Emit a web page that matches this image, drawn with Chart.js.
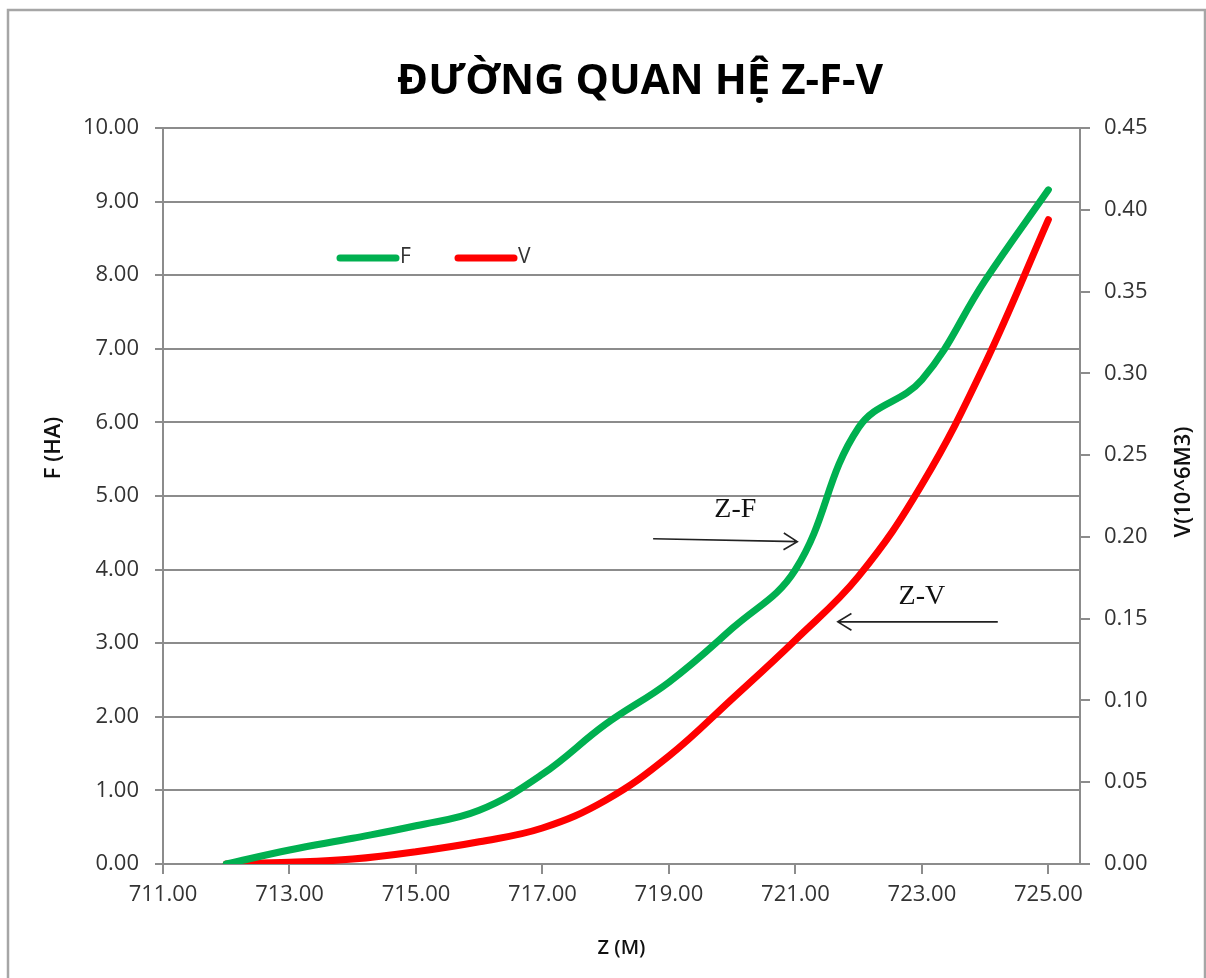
<!DOCTYPE html>
<html>
<head>
<meta charset="utf-8">
<script src="https://cdn.jsdelivr.net/npm/chart.js@4.4.0/dist/chart.umd.min.js"></script>
<style>
  html, body { margin: 0; padding: 0; background: #fff; }
  #wrap { width: 1206px; height: 978px; }
</style>
</head>
<body>
<div id="wrap"><canvas id="zfv" width="1206" height="978"></canvas></div>
<script>
// Z-F-V relation
const zValues = [712, 713, 714, 715, 716, 717, 718, 719, 720, 721, 722, 723, 724, 725];
const fValues = [0, 0.19, 0.35, 0.52, 0.73, 1.22, 1.9, 2.47, 3.2, 4.0, 5.93, 6.58, 7.93, 9.16];
const vValues = [0, 0.001, 0.003, 0.0075, 0.0136, 0.022, 0.039, 0.066, 0.101, 0.137, 0.176, 0.232, 0.306, 0.394];

// axis ticks
const zTicks = [711, 713, 715, 717, 719, 721, 723, 725];
const fTicks = [0, 1, 2, 3, 4, 5, 6, 7, 8, 9, 10];
const vTicks = [0, 0.05, 0.1, 0.15, 0.2, 0.25, 0.3, 0.35, 0.4, 0.45];

const GRID = "#8c8c8c";
const GREEN = "#00b050";
const RED = "#ff0000";
const TEXT = "#333333";

Chart.defaults.font.family = "'Open Sans', sans-serif";
Chart.defaults.color = TEXT;

function setTicks(values) {
  return (scale) => {
    scale.ticks = values.map((v) => ({ value: v }));
  };
}

function drawArrow(ctx, x1, y1, x2, y2) {
  const ang = Math.atan2(y2 - y1, x2 - x1);
  const len = 16;
  ctx.beginPath();
  ctx.moveTo(x1, y1);
  ctx.lineTo(x2, y2);
  ctx.moveTo(x2 - len * Math.cos(ang - 0.55), y2 - len * Math.sin(ang - 0.55));
  ctx.lineTo(x2, y2);
  ctx.lineTo(x2 - len * Math.cos(ang + 0.55), y2 - len * Math.sin(ang + 0.55));
  ctx.stroke();
}

// background, frame, title, legend, axis titles and the Z-F / Z-V notes
const decor = {
  id: "decor",
  beforeDraw(chart) {
    const ctx = chart.ctx;
    ctx.save();
    ctx.fillStyle = "#fff";
    ctx.fillRect(0, 0, chart.width, chart.height);
    ctx.strokeStyle = "#a6a6a6";
    ctx.lineWidth = 2.5;
    ctx.strokeRect(8, 10, 1197, 1000);
    ctx.restore();
  },
  afterDraw(chart) {
    const ctx = chart.ctx;
    const xs = chart.scales.x;
    const ys = chart.scales.y;
    ctx.save();

    // title
    ctx.fillStyle = "#000";
    ctx.font = "bold 42px 'Open Sans', sans-serif";
    ctx.textAlign = "center";
    ctx.textBaseline = "alphabetic";
    ctx.fillText("ĐƯỜNG QUAN HỆ Z-F-V", 640, 94);

    // legend
    const items = chart.data.datasets;
    const legendX = [340, 458];
    ctx.lineCap = "round";
    ctx.lineWidth = 7;
    ctx.font = "21px 'Open Sans', sans-serif";
    ctx.textAlign = "left";
    ctx.textBaseline = "middle";
    items.forEach((ds, i) => {
      const lx = legendX[i];
      ctx.strokeStyle = ds.borderColor;
      ctx.beginPath();
      ctx.moveTo(lx, 258);
      ctx.lineTo(lx + 56, 258);
      ctx.stroke();
      ctx.fillStyle = TEXT;
      ctx.fillText(ds.label, lx + 60, 257);
    });

    // axis titles (Excel style, both read bottom to top)
    ctx.fillStyle = "#111";
    ctx.font = "600 22px 'Open Sans', sans-serif";
    ctx.textAlign = "center";
    ctx.textBaseline = "middle";
    ctx.save();
    ctx.translate(54, 448);
    ctx.rotate(-Math.PI / 2);
    ctx.fillText("F (HA)", 0, 0);
    ctx.restore();
    ctx.save();
    ctx.translate(1184, 482);
    ctx.rotate(-Math.PI / 2);
    ctx.fillText("V(10^6M3)", 0, 0);
    ctx.restore();

    // notes with arrows
    ctx.fillStyle = "#111";
    ctx.strokeStyle = "#222";
    ctx.lineWidth = 1.6;
    ctx.lineCap = "butt";
    ctx.font = "28px 'Liberation Serif', serif";
    ctx.fillText("Z-F", xs.getPixelForValue(720.05), ys.getPixelForValue(4.82));
    drawArrow(ctx,
      xs.getPixelForValue(718.75), ys.getPixelForValue(4.42),
      xs.getPixelForValue(721.03), ys.getPixelForValue(4.38));
    ctx.fillText("Z-V", xs.getPixelForValue(723.0), ys.getPixelForValue(3.63));
    drawArrow(ctx,
      xs.getPixelForValue(724.2), ys.getPixelForValue(3.29),
      xs.getPixelForValue(721.67), ys.getPixelForValue(3.29));

    ctx.restore();
  },
};

const ctx = document.getElementById("zfv").getContext("2d");
new Chart(ctx, {
  type: "line",
  data: {
    datasets: [
      {
        label: "F",
        data: zValues.map((z, i) => ({ x: z, y: fValues[i] })),
        borderColor: GREEN,
        borderWidth: 7,
        yAxisID: "y",
      },
      {
        label: "V",
        data: zValues.map((z, i) => ({ x: z, y: vValues[i] })),
        borderColor: RED,
        borderWidth: 7,
        yAxisID: "y1",
      },
    ],
  },
  options: {
    responsive: false,
    animation: false,
    devicePixelRatio: 1,
    layout: { padding: { top: 128, left: 0, right: 0, bottom: 0 } },
    elements: {
      point: { radius: 0 },
      line: { tension: 0.4, borderCapStyle: "round", borderJoinStyle: "round" },
    },
    plugins: {
      legend: { display: false },
      title: { display: false },
      tooltip: { enabled: false },
    },
    scales: {
      x: {
        type: "linear",
        min: 711,
        max: 725.5,
        afterBuildTicks: setTicks(zTicks),
        afterFit: (scale) => { scale.height = 114; },
        grid: { drawOnChartArea: false, color: GRID, lineWidth: 2, tickLength: 10 },
        border: { color: GRID, width: 2 },
        ticks: {
          padding: 8,
          maxRotation: 0,
          autoSkip: false,
          font: { size: 22 },
          color: TEXT,
          callback: (v) => Number(v).toFixed(2),
        },
        title: {
          display: true,
          text: "Z (M)",
          font: { size: 20, weight: "600" },
          color: "#111",
          padding: { top: 0, bottom: 18 },
        },
      },
      y: {
        position: "left",
        min: 0,
        max: 10,
        afterBuildTicks: setTicks(fTicks),
        afterFit: (scale) => { scale.width = 163; },
        grid: { color: GRID, lineWidth: 2, tickLength: 8 },
        border: { color: GRID, width: 2 },
        ticks: {
          padding: 16,
          font: { size: 22 },
          color: TEXT,
          callback: (v) => Number(v).toFixed(2),
        },
      },
      y1: {
        position: "right",
        min: 0,
        max: 0.45,
        afterBuildTicks: setTicks(vTicks),
        afterFit: (scale) => { scale.width = 126; },
        grid: { drawOnChartArea: false, color: GRID, lineWidth: 2, tickLength: 10 },
        border: { color: GRID, width: 2 },
        ticks: {
          padding: 14,
          font: { size: 22 },
          color: TEXT,
          callback: (v) => Number(v).toFixed(2),
        },
      },
    },
  },
  plugins: [decor],
});
</script>
</body>
</html>
